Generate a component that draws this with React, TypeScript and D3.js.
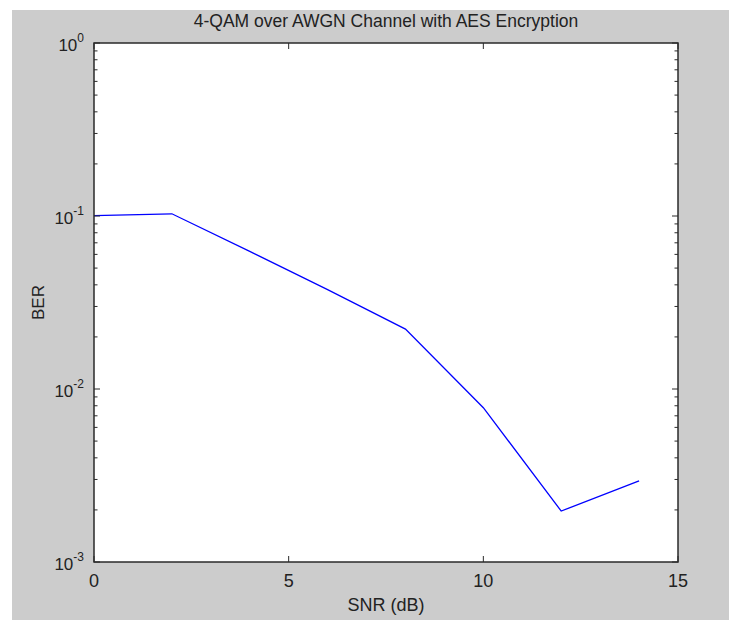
import React from "react";
import * as d3 from "d3";

const snrDb = [0, 2, 4, 6, 8, 10, 12, 14];
const ber = [0.1005, 0.103, 0.0625, 0.0375, 0.0222, 0.0078, 0.00197, 0.00294];
const xTicks = [0, 5, 10, 15];
const yDecades = [0, -1, -2, -3];
const titleText = "4-QAM over AWGN Channel with AES Encryption";
const xLabel = "SNR (dB)";
const yLabel = "BER";

const W = 729;
const H = 620;
const L = 94, R = 678, T = 43, B = 562;
const FONT = "'Liberation Sans', Arial, Helvetica, sans-serif";

export default function App() {
  const x = d3.scaleLinear().domain([0, 15]).range([L, R]);
  const y = d3.scaleLog().domain([1e-3, 1]).range([B, T]);
  const line = d3
    .line<number>()
    .x((_, i) => x(snrDb[i]))
    .y((d) => y(d));

  const minor: number[] = [];
  for (let e = -3; e < 0; e++) {
    for (let m = 2; m <= 9; m++) minor.push(m * Math.pow(10, e));
  }
  const stroke = "#2a2a2a";

  return (
    <svg
      width={W}
      height={H}
      style={{ position: "absolute", left: 0, top: 0, background: "#fff" }}
    >
      <rect x={12} y={10} width={W - 12} height={H - 10} fill="#cccccc" />
      <rect x={L} y={T} width={R - L} height={B - T} fill="#ffffff" />
      <path
        d={line(ber) || ""}
        fill="none"
        stroke="#0000ff"
        strokeWidth={1.3}
      />
      {xTicks.map((t) => (
        <g key={"x" + t}>
          <line x1={x(t)} x2={x(t)} y1={B} y2={B - 6} stroke={stroke} strokeWidth={1} />
          <line x1={x(t)} x2={x(t)} y1={T} y2={T + 6} stroke={stroke} strokeWidth={1} />
          <text
            x={x(t)}
            y={B + 25}
            textAnchor="middle"
            fontFamily={FONT}
            fontSize={18}
            fill="#222"
          >
            {t}
          </text>
        </g>
      ))}
      {yDecades.map((e) => {
        const yy = y(Math.pow(10, e));
        return (
          <g key={"y" + e}>
            <line x1={L} x2={L + 6} y1={yy} y2={yy} stroke={stroke} strokeWidth={1} />
            <line x1={R} x2={R - 6} y1={yy} y2={yy} stroke={stroke} strokeWidth={1} />
            <text
              x={L - 10}
              y={yy + 8}
              textAnchor="end"
              fontFamily={FONT}
              fontSize={17}
              fill="#222"
            >
              10
              <tspan dy={-9} fontSize={12}>
                {String(e)}
              </tspan>
            </text>
          </g>
        );
      })}
      {minor.map((v, i) => {
        const yy = y(v);
        return (
          <g key={"m" + i}>
            <line x1={L} x2={L + 3.5} y1={yy} y2={yy} stroke={stroke} strokeWidth={1} />
            <line x1={R} x2={R - 3.5} y1={yy} y2={yy} stroke={stroke} strokeWidth={1} />
          </g>
        );
      })}
      <rect
        x={L}
        y={T}
        width={R - L}
        height={B - T}
        fill="none"
        stroke={stroke}
        strokeWidth={1.5}
      />
      <text
        x={(L + R) / 2}
        y={27}
        textAnchor="middle"
        fontFamily={FONT}
        fontSize={17.5}
        fill="#222"
      >
        {titleText}
      </text>
      <text
        x={(L + R) / 2}
        y={611}
        textAnchor="middle"
        fontFamily={FONT}
        fontSize={18}
        fill="#222"
      >
        {xLabel}
      </text>
      <text
        transform={`translate(43.5, ${(T + B) / 2}) rotate(-90)`}
        textAnchor="middle"
        fontFamily={FONT}
        fontSize={17}
        fill="#222"
      >
        {yLabel}
      </text>
    </svg>
  );
}
